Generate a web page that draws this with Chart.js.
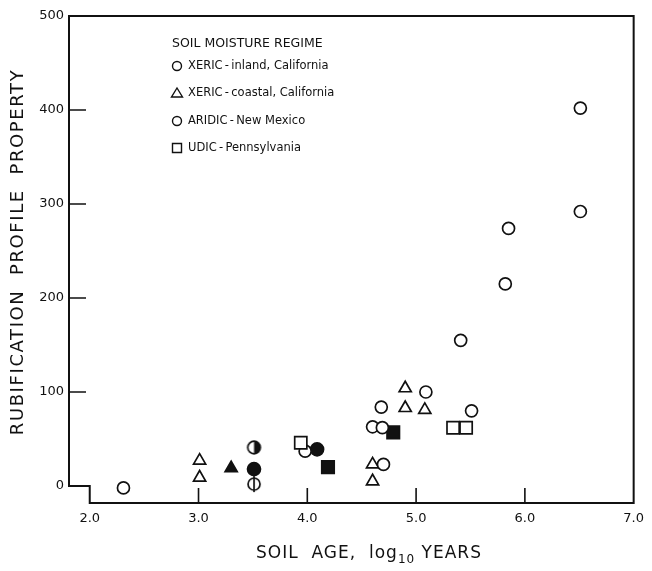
<!DOCTYPE html>
<html><head><meta charset="utf-8">
<script src="https://cdn.jsdelivr.net/npm/chart.js@4.4.0/dist/chart.umd.min.js"></script>
<style>html,body{margin:0;padding:0;background:#fff;}#wrap{width:652px;height:571px;}</style>
</head><body><div id="wrap"><canvas id="c" width="652" height="571"></canvas></div>
<script>
// ---- data ----
const xTickValues = [2, 3, 4, 5, 6, 7];
const xTickLabels = ['2.0', '3.0', '4.0', '5.0', '6.0', '7.0'];
const yTickValues = [0, 100, 200, 300, 400, 500];
const yTickLabels = ['0', '100', '200', '300', '400', '500'];

const xericInlandAge   = [2.31, 3.98, 4.60, 4.68, 4.69, 5.09, 5.41, 5.82, 5.85, 6.51, 6.51];
const xericInlandValue = [-2, 37, 63, 84, 62, 100, 155, 215, 274, 292, 402];
const xericCoastalAge   = [3.01, 3.01, 4.60, 4.60, 4.90, 4.90, 5.08];
const xericCoastalValue = [27, 9, 23, 5, 104, 83, 81];
const aridicAge   = [4.70, 5.51];
const aridicValue = [23, 80];
const udicAge   = [3.94, 5.34, 5.46];
const udicValue = [46, 62, 62];
const filledTriangleAge   = [3.30];
const filledTriangleValue = [19];
const filledCircleAge   = [3.51, 4.09];
const filledCircleValue = [18, 39];
const halfCircleAge   = [3.51];
const halfCircleValue = [41];
const barCircleAge   = [3.51];
const barCircleValue = [2];
const filledSquareAge   = [4.19, 4.79];
const filledSquareValue = [20, 57];

const legendTitle = 'SOIL MOISTURE REGIME';
const legendLabels = ['XERIC\u2009-\u2009inland, California', 'XERIC\u2009-\u2009coastal, California', 'ARIDIC\u2009-\u2009New Mexico', 'UDIC\u2009-\u2009Pennsylvania'];
const legendStyles = ['circle', 'triangle', 'circle', 'rect'];
const xTitleParts = ['SOIL  AGE,  log', '10', ' YEARS'];
const yTitle = 'RUBIFICATION  PROFILE  PROPERTY';

const INK = '#111';
const FONT = "'DejaVu Sans', sans-serif";

function pts(xs, ys) { return xs.map((x, i) => ({ x: x, y: ys[i] })); }

function makeSymbol(kind, r, lw) {
  const size = Math.ceil(2 * r + lw + 6);
  const c = document.createElement('canvas');
  c.width = c.height = size;
  const g = c.getContext('2d');
  const cx = size / 2;
  g.lineWidth = lw; g.strokeStyle = INK; g.fillStyle = '#fff';
  g.beginPath(); g.arc(cx, cx, r, 0, 2 * Math.PI); g.fill();
  if (kind === 'half') {
    g.fillStyle = INK; g.beginPath(); g.moveTo(cx, cx);
    g.arc(cx, cx, r, -Math.PI / 2, Math.PI / 2); g.closePath(); g.fill();
  }
  g.beginPath(); g.arc(cx, cx, r, 0, 2 * Math.PI); g.stroke();
  if (kind === 'bar') {
    g.beginPath(); g.moveTo(cx, cx - r - 2); g.lineTo(cx, cx + r + 2); g.stroke();
  }
  return c;
}

function ds(label, data, style, radius, filled) {
  return {
    label: label, data: data, pointStyle: style, pointRadius: radius,
    pointBorderWidth: 1.7, pointBorderColor: INK,
    pointBackgroundColor: filled ? INK : '#fff', showLine: false
  };
}

const datasets = [
  ds('UDIC - Pennsylvania', pts(udicAge, udicValue), 'rect', 8.6, false),
  ds('XERIC - inland, California', pts(xericInlandAge, xericInlandValue), 'circle', 6, false),
  ds('ARIDIC - New Mexico', pts(aridicAge, aridicValue), 'circle', 6, false),
  ds('XERIC - coastal, California', pts(xericCoastalAge, xericCoastalValue), 'triangle', 7, false),
  ds('filled triangle', pts(filledTriangleAge, filledTriangleValue), 'triangle', 7, true),
  ds('filled circle', pts(filledCircleAge, filledCircleValue), 'circle', 6.5, true),
  ds('half circle', pts(halfCircleAge, halfCircleValue), makeSymbol('half', 6.3, 1.7), 6.5, false),
  ds('bar circle', pts(barCircleAge, barCircleValue), makeSymbol('bar', 6, 1.7), 6, false),
  ds('filled square', pts(filledSquareAge, filledSquareValue), 'rect', 8.8, true)
];

const framePlugin = {
  id: 'frame',
  beforeDatasetsDraw(chart) {
    const { ctx, chartArea: ca, scales: { x, y } } = chart;
    const x0 = x.getPixelForValue(2), y0 = y.getPixelForValue(0);
    ctx.save();
    ctx.strokeStyle = INK; ctx.lineWidth = 2; ctx.lineJoin = 'miter';
    ctx.beginPath();
    ctx.moveTo(x0, y0);
    ctx.lineTo(ca.left, y0); ctx.lineTo(ca.left, ca.top);
    ctx.lineTo(ca.right, ca.top); ctx.lineTo(ca.right, ca.bottom);
    ctx.lineTo(x0, ca.bottom); ctx.closePath();
    ctx.stroke();
    ctx.lineWidth = 1.6;
    ctx.beginPath();
    yTickValues.forEach(v => {
      if (v === 0 || v === 500) return;
      const py = y.getPixelForValue(v);
      ctx.moveTo(ca.left, py); ctx.lineTo(ca.left + 17, py);
    });
    xTickValues.forEach(v => {
      if (v === 2 || v === 7) return;
      const px = x.getPixelForValue(v);
      ctx.moveTo(px, ca.bottom); ctx.lineTo(px, ca.bottom - 15);
    });
    ctx.stroke();
    ctx.restore();
  },
  afterDraw(chart) {
    const ctx = chart.ctx;
    ctx.save();
    ctx.fillStyle = INK; ctx.strokeStyle = INK;
    // legend
    ctx.textBaseline = 'middle'; ctx.textAlign = 'left';
    ctx.font = '12.5px ' + FONT;
    ctx.fillText(legendTitle, 172, 44);
    ctx.font = '11.5px ' + FONT;
    const rows = [66, 93, 121, 148];
    legendLabels.forEach((t, i) => {
      const cy = rows[i], cx = 177;
      ctx.lineWidth = 1.4;
      ctx.beginPath();
      if (legendStyles[i] === 'circle') ctx.arc(cx, cy, 4.5, 0, 2 * Math.PI);
      else if (legendStyles[i] === 'triangle') { ctx.moveTo(cx, cy - 5); ctx.lineTo(cx + 5.5, cy + 4); ctx.lineTo(cx - 5.5, cy + 4); ctx.closePath(); }
      else ctx.rect(cx - 4.5, cy - 4.5, 9, 9);
      ctx.stroke();
      ctx.fillText(t, 188, cy);
    });
    // y title
    ctx.save();
    ctx.font = '18px ' + FONT;
    ctx.letterSpacing = '1.6px';
    ctx.translate(18, 252); ctx.rotate(-Math.PI / 2);
    ctx.textAlign = 'center'; ctx.textBaseline = 'middle';
    ctx.fillText(yTitle, 0, 0);
    ctx.restore();
    // x title
    ctx.save();
    ctx.letterSpacing = '1px';
    const big = '17px ' + FONT, small = '12px ' + FONT;
    ctx.textAlign = 'left'; ctx.textBaseline = 'alphabetic';
    ctx.font = big; const w0 = ctx.measureText(xTitleParts[0]).width, w2 = ctx.measureText(xTitleParts[2]).width;
    ctx.font = small; const w1 = ctx.measureText(xTitleParts[1]).width;
    let sx = 369 - (w0 + w1 + w2) / 2;
    const base = 558;
    ctx.font = big; ctx.fillText(xTitleParts[0], sx, base); sx += w0;
    ctx.font = small; ctx.fillText(xTitleParts[1], sx, base + 5); sx += w1;
    ctx.font = big; ctx.fillText(xTitleParts[2], sx, base);
    ctx.restore();
    ctx.restore();
  }
};

new Chart(document.getElementById('c'), {
  type: 'scatter',
  data: { datasets: datasets },
  options: {
    responsive: false, animation: false,
    layout: { padding: { top: 16, right: 11, left: 0, bottom: 0 } },
    plugins: { legend: { display: false }, tooltip: { enabled: false } },
    scales: {
      x: {
        type: 'linear', min: 1.8094, max: 7,
        grid: { display: false, drawTicks: false }, border: { display: false },
        afterBuildTicks: s => { s.ticks = xTickValues.map(v => ({ value: v })); },
        afterFit: s => { s.height = 68; },
        ticks: { padding: 8, color: INK, autoSkip: false, maxRotation: 0,
          font: { family: FONT, size: 13 }, callback: (v, i) => xTickLabels[i] }
      },
      y: {
        type: 'linear', min: -18.09, max: 500,
        grid: { display: false, drawTicks: false }, border: { display: false },
        afterBuildTicks: s => { s.ticks = yTickValues.map(v => ({ value: v })); },
        afterFit: s => { s.width = 69; },
        ticks: { padding: 5, color: INK, autoSkip: false,
          font: { family: FONT, size: 13 }, callback: (v, i) => yTickLabels[i] }
      }
    }
  },
  plugins: [framePlugin]
});
</script>
</body></html>
